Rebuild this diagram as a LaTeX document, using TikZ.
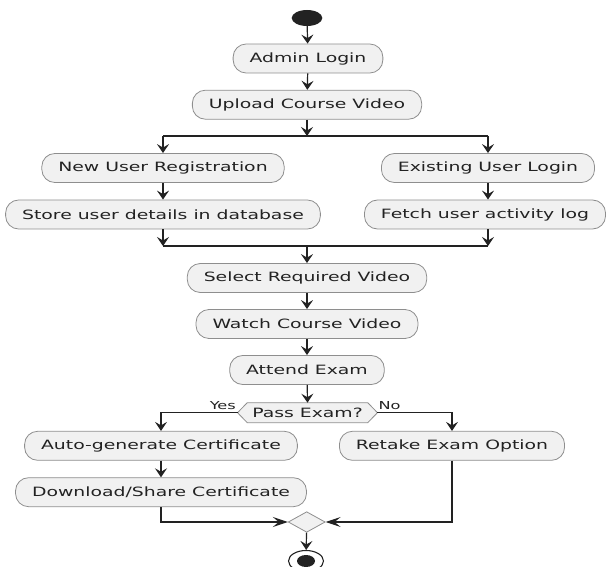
\documentclass[tikz,border=0pt]{standalone}
\usepackage{fontspec}
\setmainfont[FakeStretch=1.47]{DejaVu Sans}
\usepackage{xcolor}
\usepackage{tikz}
\usetikzlibrary{arrows.meta,shapes.geometric}

\definecolor{boxfill}{HTML}{F1F1F1}
\definecolor{boxline}{HTML}{8E8E8E}
\definecolor{flowline}{HTML}{222222}

\begin{document}
\begin{tikzpicture}[x=1pt, y=-1pt,
    action/.style={draw=boxline, fill=boxfill, rounded corners=13pt,
        line width=0.8pt, inner xsep=16.5pt, inner ysep=0pt,
        minimum height=29pt, text=flowline,
        font=\fontsize{12.8pt}{15pt}\selectfont},
    guard/.style={font=\fontsize{11pt}{13pt}\selectfont, text=flowline, inner sep=0pt},
    flow/.style={draw=flowline, line width=1.2pt,
        -{Stealth[length=9pt, width=12pt, inset=3.5pt]}},
    flowh/.style={draw=flowline, line width=1.2pt,
        -{Stealth[length=15pt, width=10pt, inset=6pt]}},
    bar/.style={draw=flowline, line width=1.2pt}]

    \useasboundingbox (0,0) rectangle (606,567);

    %% ── Début et connexion admin ───────────────────────────────────────
    \node[ellipse, fill=flowline, minimum width=30.6pt, minimum height=16pt,
        inner sep=0pt] (start) at (307,18) {};
    \node[action] (admin) at (308,58.5) {Admin Login};
    \node[action] (upload) at (307,104.7) {Upload Course Video};

    %% ── Deux branches utilisateurs ─────────────────────────────────────
    \coordinate (fork) at (307,136);
    \node[action] (newreg) at (163,168) {New User Registration};
    \node[action] (existing) at (488,168) {Existing User Login};
    \node[action] (store) at (163,214.5) {Store user details in database};
    \node[action] (fetch) at (485,214.5) {Fetch user activity log};
    \coordinate (join) at (307,246);

    %% ── Parcours commun ────────────────────────────────────────────────
    \node[action] (select) at (307,278) {Select Required Video};
    \node[action] (watch) at (307,324) {Watch Course Video};
    \node[action] (attend) at (307,370) {Attend Exam};

    %% ── Décision examen ────────────────────────────────────────────────
    \node[text=flowline, font=\fontsize{12.8pt}{15pt}\selectfont,
        inner xsep=5pt, inner ysep=0pt, outer xsep=9.7pt, outer ysep=0pt,
        minimum height=20pt] (pass) at (307.5,412.7) {Pass Exam?};
    \draw[draw=boxline, fill=boxfill, line width=0.8pt]
        (pass.west) -- ([xshift=9.7pt]pass.north west)
        -- ([xshift=-9.7pt]pass.north east) -- (pass.east)
        -- ([xshift=-9.7pt]pass.south east)
        -- ([xshift=9.7pt]pass.south west) -- cycle;
    \node[text=flowline, font=\fontsize{12.8pt}{15pt}\selectfont,
        inner xsep=5pt, inner ysep=0pt] at (pass) {Pass Exam?};
    \node[guard, anchor=base east] (yes) at ([xshift=-1.5pt,yshift=3pt]pass.west) {Yes};
    \node[guard, anchor=base west] (no) at ([xshift=1pt,yshift=3pt]pass.east) {No};

    \node[action] (auto) at (161,445.8) {Auto-generate Certificate};
    \node[action] (download) at (161,492.2) {Download/Share Certificate};
    \node[action] (retake) at (452,445.8) {Retake Exam Option};

    %% ── Fusion et fin ──────────────────────────────────────────────────
    \node[diamond, draw=boxline, fill=boxfill, line width=0.8pt,
        minimum width=37pt, minimum height=20.6pt, inner sep=0pt]
        (merge) at (306.7,522) {};
    \node[ellipse, draw=flowline, line width=1.1pt, minimum width=35pt,
        minimum height=21pt, inner sep=0pt] (finish) at (306,561) {};
    \node[ellipse, fill=flowline, minimum width=18pt, minimum height=12pt,
        inner sep=0pt] at (finish) {};

    %% ── Flèches ────────────────────────────────────────────────────────
    \draw[flow] (start) -- (admin);
    \draw[flow] (admin) -- (upload);
    \draw[flow] (upload) -- (fork);
    \draw[bar] (fork -| newreg) -- (fork -| existing);
    \draw[flow] (fork -| newreg) -- (newreg);
    \draw[flow] (fork -| existing) -- (existing);
    \draw[flow] (newreg) -- (store);
    \draw[flow] (existing.south) -- (existing.south |- fetch.north);
    \draw[flow] (store) -- (join -| store);
    \draw[flow] (existing.south |- fetch.south) -- (join -| existing);
    \draw[bar] (join -| store) -- (join -| existing);
    \draw[flow] (join) -- (select);
    \draw[flow] (select) -- (watch);
    \draw[flow] (watch) -- (attend);
    \draw[flow] (attend) -- (pass.north);
    \draw[flow] (pass.west) -| (auto.north);
    \draw[flow] (pass.east) -| (retake.north);
    \draw[flow] (auto) -- (download);
    \draw[flowh] (download.south) |- (merge.west);
    \draw[flowh] (retake.south) |- (merge.east);
    \draw[flow] (merge) -- (finish);

\end{tikzpicture}
\end{document}
